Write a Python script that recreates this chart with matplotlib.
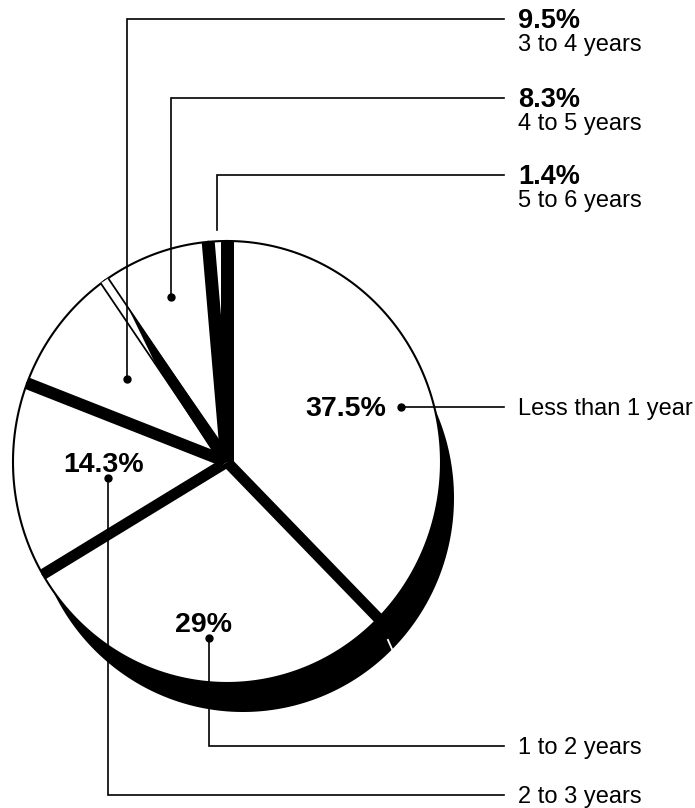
import numpy as np
import matplotlib
matplotlib.use("Agg")
import matplotlib.pyplot as plt
from matplotlib.patches import Polygon

# Length of service distribution
categories = ["Less than 1 year", "1 to 2 years", "2 to 3 years",
              "3 to 4 years", "4 to 5 years", "5 to 6 years"]
shares = [37.5, 29, 14.3, 9.5, 8.3, 1.4]

plt.rcParams["font.family"] = ["Liberation Sans", "DejaVu Sans"]

W, H = 695, 808
fig = plt.figure(figsize=(W / 100, H / 100), dpi=100)
ax = fig.add_axes([0, 0, 1, 1])
ax.set_xlim(0, W)
ax.set_ylim(H, 0)
ax.axis("off")

# pie geometry (pixel space, slightly taller than wide)
CX, CY, RX, RY = 227, 462, 214, 221
EXTRUDE = np.array([16.0, 36.0])     # direction of the dark rim
LW_EDGE = 1.5
LW_LEAD = 1.2


def pt(t_deg, r=1.0, cx=CX, cy=CY, rx=RX, ry=RY):
    t = np.radians(t_deg)
    return np.array([cx + r * rx * np.sin(t), cy - r * ry * np.cos(t)])


def arc(t0, t1, n=240, **kw):
    ts = np.linspace(t0, t1, n)
    x, y = pt(ts, **kw)
    return np.column_stack([x, y])


bounds = np.concatenate([[0.0], np.cumsum(shares)]) / sum(shares) * 360.0
center = np.array([CX, CY], dtype=float)


def ray_frame(t):
    tip = pt(t, 1.0)
    u = (tip - center) / np.linalg.norm(tip - center)
    n = np.array([-u[1], u[0]])
    # make n point toward increasing angle
    if np.dot(pt(t + 5, 0.8) - pt(t, 0.8), n) < 0:
        n = -n
    return tip, n


def ray_point(t, r, side, w):
    tip, n = ray_frame(t)
    return center + r * (tip - center) + side * n * w / 2.0


# dark rim below the disc
shadow = arc(0, 360, n=720, cx=CX + EXTRUDE[0], cy=CY + EXTRUDE[1],
             rx=RX - 3, ry=RY - 7)
ax.add_patch(Polygon(shadow, closed=True, fc="black", ec="none", zorder=1))

# white slices
for i in range(len(shares)):
    verts = np.vstack([center, arc(bounds[i], bounds[i + 1])])
    ax.add_patch(Polygon(verts, closed=True, fc="white", ec="black",
                         lw=LW_EDGE, joinstyle="miter", zorder=2))

# dark side walls between slices
band_w = {0: 13, 1: 11, 2: 11, 3: 12, 4: 9, 5: 13}
for k in range(len(shares)):
    t = bounds[k]
    w = band_w[k]
    if k == 4:
        # open gap with walls showing only toward the centre
        gap = [ray_point(t, 0, -1, w), ray_point(t, 1, -1, w),
               ray_point(t, 1, 1, w), ray_point(t, 0, 1, w)]
        ax.add_patch(Polygon(gap, closed=True, fc="white", ec="none", zorder=3))
        for s in (-1, 1):
            a, b = ray_point(t, 0, s, w), ray_point(t, 1, s, w)
            ax.plot([a[0], b[0]], [a[1], b[1]], color="black",
                    lw=LW_EDGE * 0.85, zorder=3.1, solid_capstyle="butt")
        wall = [ray_point(t, 0, -1, w + 4), ray_point(t, 0, 1, w + 4),
                ray_point(t, 0.84, 1, w), ray_point(t, 0.55, -1, w)]
        ax.add_patch(Polygon(wall, closed=True, fc="black", ec="none", zorder=3.2))
    else:
        band = [ray_point(t, 0, -1, w), ray_point(t, 1, -1, w),
                ray_point(t, 1, 1, w), ray_point(t, 0, 1, w)]
        ax.add_patch(Polygon(band, closed=True, fc="black", ec="none", zorder=3))

# seam in the dark rim between the two largest slices
p = pt(bounds[1], 1.0)
a, b = p + 0.6 * EXTRUDE, p + 0.95 * EXTRUDE
ax.plot([a[0], b[0]], [a[1], b[1]], color="white", lw=1.3, zorder=4)

# labels and leader lines
LINE_END = 504
TEXT_X = 518
dot_frac = [0.54, 0.49, 0.45, 0.53, 0.52, 0.5]
dot_r = [0.85, 0.80, 0.56, 0.60, 0.79, 1.05]
row_y = [None, 746, 795, 19, 98, 175]
inside = [True, True, True, False, False, False]

for i, (cat, v) in enumerate(zip(categories, shares)):
    t = bounds[i] + dot_frac[i] * (bounds[i + 1] - bounds[i])
    dx, dy = pt(t, dot_r[i])
    pct = f"{v:g}%"
    if row_y[i] is None:
        xs, ys = [dx, LINE_END], [dy, dy]
        ly = dy
    else:
        xs, ys = [dx, dx, LINE_END], [dy, row_y[i], row_y[i]]
        ly = row_y[i]
    ax.plot(xs, ys, color="black", lw=LW_LEAD, zorder=5,
            solid_joinstyle="miter")
    if i != len(shares) - 1:
        ax.plot([dx], [dy], "o", color="black", ms=5, zorder=6)

    if inside[i]:
        ax.text(TEXT_X, ly + 8, cat, fontsize=17, ha="left",
                va="baseline", zorder=7)
        if i == 0:
            ax.text(dx - 15, dy + 9, pct, fontsize=20.5, fontweight="bold",
                    ha="right", va="baseline", zorder=7)
        else:
            ax.text(dx - 5, dy - 6, pct, fontsize=20.5, fontweight="bold",
                    ha="center", va="baseline", zorder=7)
    else:
        ax.text(TEXT_X, ly + 9, pct, fontsize=19.5, fontweight="bold",
                ha="left", va="baseline", zorder=7)
        ax.text(TEXT_X, ly + 32, cat, fontsize=17, ha="left",
                va="baseline", zorder=7)

fig.savefig("out.png", dpi=100, facecolor="white")
